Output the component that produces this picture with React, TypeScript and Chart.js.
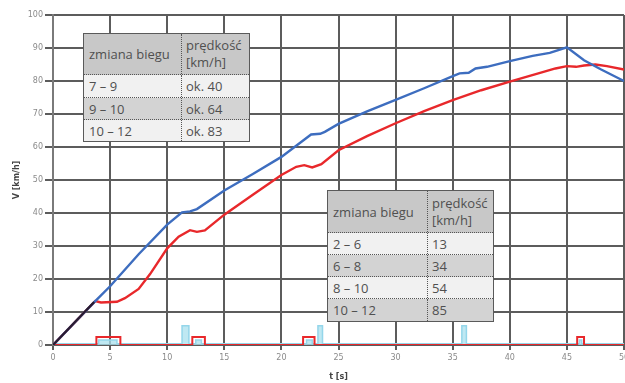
import React, { useEffect, useRef } from "react";
import { Chart, registerables } from "chart.js";

Chart.register(...registerables);

// ---- data ----
const blueT = [0, 3.7, 5, 7.5, 10, 11.3, 12, 12.6, 15, 17.5, 20, 22.6, 23.4, 23.8, 25, 27.5, 30, 32.5, 34.8, 35.6, 36.4, 37, 38, 40, 42, 43.5, 45, 46.5, 48, 50];
const blueV = [0, 13.3, 17.8, 27.5, 36.5, 40.2, 40.5, 41.2, 46.8, 51.8, 57, 63.8, 64, 64.6, 67, 70.8, 74.3, 77.8, 81.2, 82.3, 82.5, 83.8, 84.3, 86, 87.6, 88.5, 90.2, 86.3, 83.5, 80];

const redT = [0, 3.7, 4.2, 5.6, 6.3, 7.5, 8.5, 10, 11, 12, 12.6, 13.3, 15, 17.5, 20, 21.3, 22, 22.7, 23.5, 25, 27.5, 30, 32.5, 35, 37.5, 40, 42.5, 44, 45, 45.8, 46.5, 47.5, 48.5, 50];
const redV = [0, 13.3, 12.9, 13.1, 14.2, 17, 21.5, 29.3, 32.8, 34.8, 34.3, 34.7, 39.5, 45.5, 51.5, 54, 54.5, 53.8, 54.8, 59, 63.3, 67.2, 70.9, 74.2, 77.2, 79.8, 82.3, 83.8, 84.5, 84.3, 84.7, 85, 84.5, 83.5];

const blackT = [0, 3.6];
const blackV = [0, 13];

const shiftT = [0, 3.8, 3.8, 5.9, 5.9, 12.2, 12.2, 13.3, 13.3, 21.9, 21.9, 22.9, 22.9, 45.9, 45.9, 46.5, 46.5, 50];
const shiftV = [0, 0, 2.4, 2.4, 0, 0, 2.4, 2.4, 0, 0, 2.4, 2.4, 0, 0, 2.4, 2.4, 0, 0];

const clutchT = [0, 4.0, 4.0, 5.6, 5.6, 11.3, 11.3, 11.9, 11.9, 12.5, 12.5, 13.0, 13.0, 22.2, 22.2, 22.7, 22.7, 23.2, 23.2, 23.6, 23.6, 35.8, 35.8, 36.2, 36.2, 46.1, 46.1, 46.3, 46.3, 50];
const clutchV = [0.4, 0.4, 1.5, 1.5, 0.4, 0.4, 5.8, 5.8, 0.4, 0.4, 1.5, 1.5, 0.4, 0.4, 1.5, 1.5, 0.4, 0.4, 5.8, 5.8, 0.4, 0.4, 5.8, 5.8, 0.4, 0.4, 1.5, 1.5, 0.4, 0.4];

const xTickStep = 5;
const yTickStep = 10;

const headerCol1 = "zmiana biegu";
const headerCol2 = ["prędkość", "[km/h]"];
const table1Gears = ["7 – 9", "9 – 10", "10 – 12"];
const table1Speeds = ["ok. 40", "ok. 64", "ok. 83"];
const table2Gears = ["2 – 6", "6 – 8", "8 – 10", "10 – 12"];
const table2Speeds = ["13", "34", "54", "85"];

const pts = (t: number[], v: number[]) => t.map((x, i) => ({ x, y: v[i] }));

type TableProps = {
  left: number;
  top: number;
  width: number;
  col1: number;
  headerH: number;
  rowH: number[];
  gears: string[];
  speeds: string[];
};

const DataTable = ({ left, top, width, col1, headerH, rowH, gears, speeds }: TableProps) => {
  const font = "'Open Sans', sans-serif";
  const rowBg = ["#f1f1f1", "#d3d3d3"];
  const dotted = "1px dotted #555";
  return (
    <div
      style={{
        position: "absolute",
        left,
        top,
        width,
        border: "1px solid #5a5a5a",
        boxSizing: "border-box",
        fontFamily: font,
        fontSize: 13,
        color: "#505050",
        background: "#fff",
      }}
    >
      <div style={{ display: "flex", height: headerH, background: "#c8c8c8", borderBottom: dotted }}>
        <div style={{ width: col1, borderRight: dotted, display: "flex", alignItems: "center", paddingLeft: 5, boxSizing: "border-box" }}>
          {headerCol1}
        </div>
        <div style={{ flex: 1, paddingLeft: 4, display: "flex", flexDirection: "column", justifyContent: "center", lineHeight: "17px" }}>
          <div>{headerCol2[0]}</div>
          <div>{headerCol2[1]}</div>
        </div>
      </div>
      {gears.map((g, i) => (
        <div
          key={i}
          style={{
            display: "flex",
            height: rowH[i],
            background: rowBg[i % 2],
            borderBottom: i < gears.length - 1 ? dotted : "none",
            boxSizing: "border-box",
          }}
        >
          <div style={{ width: col1, borderRight: dotted, display: "flex", alignItems: "center", paddingLeft: 5, boxSizing: "border-box" }}>{g}</div>
          <div style={{ flex: 1, paddingLeft: 4, display: "flex", alignItems: "center" }}>{speeds[i]}</div>
        </div>
      ))}
    </div>
  );
};

export default function App() {
  const ref = useRef<HTMLCanvasElement>(null);

  useEffect(() => {
    if (!ref.current) return;
    const line = (data: any, color: string, width: number, extra: any = {}) => ({
      data,
      borderColor: color,
      borderWidth: width,
      pointRadius: 0,
      tension: 0,
      fill: false,
      ...extra,
    });
    const chart = new Chart(ref.current, {
      type: "line",
      data: {
        datasets: [
          line(pts(blackT, blackV), "#2b1b2e", 2.2),
          line(pts(blueT, blueV), "#3d6dbf", 2.4),
          line(pts(redT, redV), "#e8282b", 2.4),
          line(pts(shiftT, shiftV), "#e8282b", 2),
          line(pts(clutchT, clutchV), "#94d6ea", 1.5, { fill: "origin", backgroundColor: "rgba(170,224,238,0.75)" }),
        ],
      },
      options: {
        responsive: false,
        animation: false,
        parsing: true,
        layout: { padding: { left: 0, right: 1, top: 15, bottom: 0 } },
        plugins: { legend: { display: false }, tooltip: { enabled: false } },
        scales: {
          x: {
            type: "linear",
            min: 0,
            max: 50,
            ticks: { stepSize: xTickStep, color: "#8a8a8a", font: { size: 8, family: "DejaVu Sans" }, padding: 3, maxRotation: 0 },
            grid: { color: "#5c5c5c", lineWidth: 2, tickLength: 5 },
            border: { color: "#5c5c5c", width: 2 },
            title: { display: true, text: "t [s]", color: "#444", font: { size: 8, weight: "bold", family: "DejaVu Sans" }, padding: { top: 0, bottom: 1 } },
            afterFit: (s: any) => {
              s.height = 38;
              s.paddingLeft = 0;
              s.paddingRight = 0;
            },
          },
          y: {
            min: 0,
            max: 100,
            ticks: { stepSize: yTickStep, color: "#8a8a8a", font: { size: 8, family: "DejaVu Sans" }, padding: 2 },
            grid: { color: "#5c5c5c", lineWidth: 2, tickLength: 8 },
            border: { color: "#7a7a7a", width: 2 },
            title: { display: true, text: "V [km/h]", color: "#444", font: { size: 8, weight: "bold", family: "DejaVu Sans" }, padding: { top: 12, bottom: 0 } },
            afterFit: (s: any) => {
              s.width = 53;
              s.paddingTop = 0;
              s.paddingBottom = 0;
            },
          },
        },
      } as any,
    });
    return () => chart.destroy();
  }, []);

  return (
    <div style={{ position: "fixed", left: 0, top: 0, width: 625, height: 383, background: "#fff" }}>
      <canvas ref={ref} width={625} height={383} style={{ display: "block" }} />
      <DataTable left={83} top={33} width={167} col1={98} headerH={40} rowH={[23, 22, 21]} gears={table1Gears} speeds={table1Speeds} />
      <DataTable left={327} top={190} width={167} col1={100} headerH={41} rowH={[22, 22, 22, 22]} gears={table2Gears} speeds={table2Speeds} />
    </div>
  );
}
